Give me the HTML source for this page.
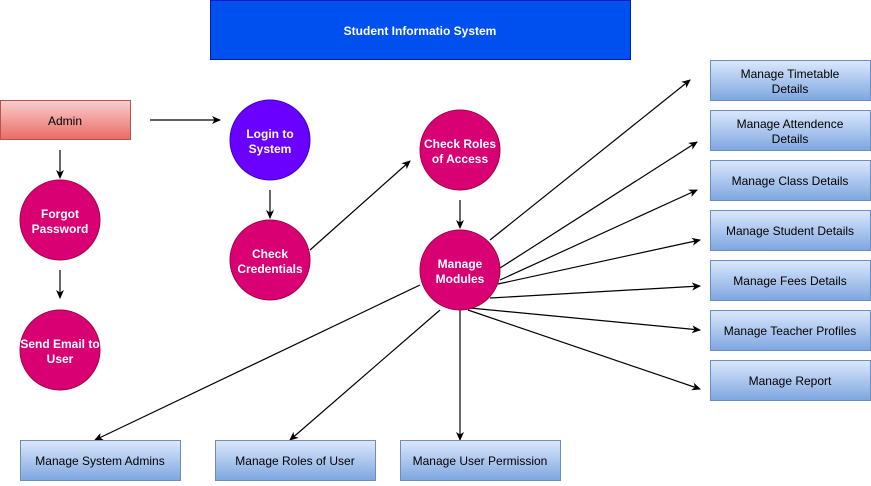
<!DOCTYPE html>
<html><head><style>
body{margin:0;background:#fff;}
svg text{font-family:"Liberation Sans",Arial,sans-serif;font-size:12px;text-anchor:middle;}
.w{fill:#fff;font-weight:bold;}
</style></head><body>
<svg width="871" height="481" viewBox="0 0 871 481" xmlns="http://www.w3.org/2000/svg">
<defs>
<linearGradient id="red" x1="0" y1="0" x2="0" y2="1"><stop offset="0" stop-color="#f8cecc"/><stop offset="1" stop-color="#ea6b66"/></linearGradient>
<linearGradient id="blue" x1="0" y1="0" x2="0" y2="1"><stop offset="0" stop-color="#dae8fc"/><stop offset="1" stop-color="#7ea6e0"/></linearGradient>
<marker id="a" markerWidth="10" markerHeight="10" refX="8" refY="4" orient="auto" markerUnits="userSpaceOnUse"><path d="M0,0 L9,4 L0,8 L2.5,4 Z" fill="#000"/></marker>
</defs>
<rect x="210.5" y="0.5" width="420" height="59" fill="#0050ef" stroke="#001dbc"/>
<text x="420" y="35" class="w">Student Informatio System</text>
<rect x="0.5" y="100.5" width="130" height="39" fill="url(#red)" stroke="#b85450"/>
<text x="65" y="125">Admin</text>
<g stroke="#000" stroke-width="1.2" fill="none" marker-end="url(#a)">
<line x1="150" y1="120" x2="220" y2="120"/>
<line x1="60" y1="150" x2="60" y2="178"/>
<line x1="60" y1="270" x2="60" y2="298"/>
<line x1="270" y1="190" x2="270" y2="218"/>
<line x1="310" y1="250" x2="410" y2="161"/>
<line x1="460" y1="200" x2="460" y2="228"/>
<line x1="490" y1="240" x2="690" y2="80"/>
<line x1="500" y1="268" x2="697" y2="142"/>
<line x1="500" y1="280" x2="697" y2="190"/>
<line x1="498" y1="284" x2="700" y2="240"/>
<line x1="490" y1="298" x2="700" y2="286"/>
<line x1="470" y1="308" x2="700" y2="330"/>
<line x1="468" y1="310" x2="700" y2="389"/>
<line x1="420" y1="285" x2="95" y2="440"/>
<line x1="440" y1="310" x2="290" y2="440"/>
<line x1="460" y1="310" x2="460" y2="440"/>
</g>
<circle cx="270" cy="140" r="40" fill="#6a00ff" stroke="#3700cc"/>
<text x="270" y="138" class="w">Login to</text><text x="270" y="153" class="w">System</text>
<circle cx="270" cy="260" r="40" fill="#d80073" stroke="#a50040"/>
<text x="270" y="258" class="w">Check</text><text x="270" y="273" class="w">Credentials</text>
<circle cx="60" cy="220" r="40" fill="#d80073" stroke="#a50040"/>
<text x="60" y="218" class="w">Forgot</text><text x="60" y="233" class="w">Password</text>
<circle cx="60" cy="350" r="40" fill="#d80073" stroke="#a50040"/>
<text x="60" y="348" class="w">Send Email to</text><text x="60" y="363" class="w">User</text>
<circle cx="460" cy="150" r="40" fill="#d80073" stroke="#a50040"/>
<text x="460" y="148" class="w">Check Roles</text><text x="460" y="163" class="w">of Access</text>
<circle cx="460" cy="270" r="40" fill="#d80073" stroke="#a50040"/>
<text x="460" y="268" class="w">Manage</text><text x="460" y="283" class="w">Modules</text>
<g fill="url(#blue)" stroke="#6c8ebf">
<rect x="710.5" y="60.5" width="160" height="40"/>
<rect x="710.5" y="110.5" width="160" height="40"/>
<rect x="710.5" y="160.5" width="160" height="40"/>
<rect x="710.5" y="210.5" width="160" height="40"/>
<rect x="710.5" y="260.5" width="160" height="40"/>
<rect x="710.5" y="310.5" width="160" height="40"/>
<rect x="710.5" y="360.5" width="160" height="40"/>
<rect x="20.5" y="440.5" width="160" height="40"/>
<rect x="215.5" y="440.5" width="160" height="40"/>
<rect x="400.5" y="440.5" width="160" height="40"/>
</g>
<text x="790" y="78">Manage Timetable</text><text x="790" y="93">Details</text>
<text x="790" y="128">Manage Attendence</text><text x="790" y="143">Details</text>
<text x="790" y="185">Manage Class Details</text>
<text x="790" y="235">Manage Student Details</text>
<text x="790" y="285">Manage Fees Details</text>
<text x="790" y="335">Manage Teacher Profiles</text>
<text x="790" y="385">Manage Report</text>
<text x="100" y="465">Manage System Admins</text>
<text x="295" y="465">Manage Roles of User</text>
<text x="480" y="465">Manage User Permission</text>
</svg>
</body></html>
